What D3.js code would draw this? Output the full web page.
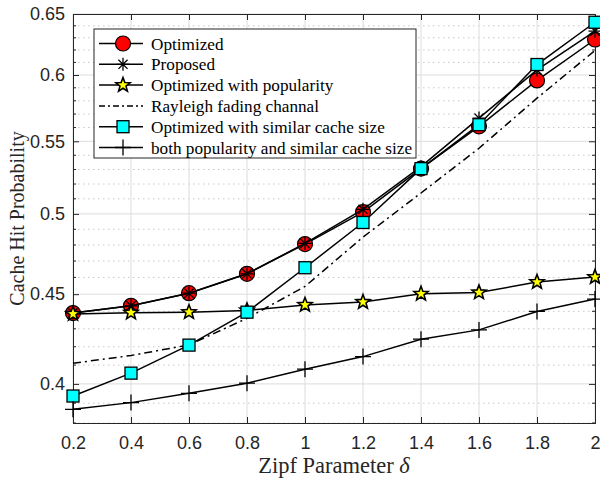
<!DOCTYPE html>
<html>
<head>
<meta charset="utf-8">
<script src="https://cdn.jsdelivr.net/npm/d3@7"></script>
<style>
  body { margin: 0; background: #fff; }
  svg { display: block; font-family: "Liberation Serif", "Times New Roman", serif; }
  .grid line { stroke: #dcdcdc; stroke-width: 1; }
  .minor line { stroke: #c8c8c8; stroke-width: 1; stroke-dasharray: 1.5 3.5; }
  .tick text { fill: #262626; font-size: 18px; }
</style>
</head>
<body>
<div id="graphic"></div>
<script>
// zipf parameter values
var zipf = [0.2, 0.4, 0.6, 0.8, 1.0, 1.2, 1.4, 1.6, 1.8, 2.0];

// cache hit probability, one array per curve
var optimized      = [0.439, 0.4432, 0.4506, 0.4622, 0.4806, 0.5012, 0.5306, 0.5609, 0.5957, 0.6286];
var proposed       = [0.439, 0.4432, 0.4506, 0.4622, 0.481, 0.503, 0.532, 0.567, 0.604, 0.6355];
var withPopularity = [0.4385, 0.4392, 0.4395, 0.4405, 0.4437, 0.4454, 0.4502, 0.451, 0.4572, 0.4602];
var rayleigh       = [0.411, 0.4152, 0.421, 0.436, 0.4546, 0.485, 0.5139, 0.545, 0.582, 0.6196];
var similarCache   = [0.3937, 0.4057, 0.4209, 0.4395, 0.4659, 0.4944, 0.5306, 0.5621, 0.6083, 0.643];
var bothPopCache   = [0.3869, 0.3903, 0.3951, 0.4004, 0.4078, 0.4146, 0.4242, 0.4294, 0.4399, 0.4471];

var xTicks = [0.2, 0.4, 0.6, 0.8, 1, 1.2, 1.4, 1.6, 1.8, 2];
var yTicks = [0.4, 0.45, 0.5, 0.55, 0.6, 0.65];

var seriesList = [
  { name: "Optimized", values: optimized, marker: "circle", dash: null },
  { name: "Proposed", values: proposed, marker: "asterisk", dash: null },
  { name: "Optimized with popularity", values: withPopularity, marker: "star", dash: null },
  { name: "Rayleigh fading channal", values: rayleigh, marker: "none", dash: "8 4 2 4" },
  { name: "Optimized with similar cache size", values: similarCache, marker: "square", dash: null },
  { name: "both popularity and similar cache size", values: bothPopCache, marker: "plus", dash: null }
];

var width = 600, height = 483;
var margin = { left: 73, right: 5, top: 14, bottom: 60 };
var chart_width = width - margin.left - margin.right;
var chart_height = height - margin.top - margin.bottom;

var svg = d3.select("#graphic").append("svg")
  .attr("width", width)
  .attr("height", height);

var g = svg.append("g")
  .attr("transform", "translate(" + margin.left + "," + margin.top + ")");

var x = d3.scaleLinear().domain([0.2, 2]).range([0, chart_width]);
var y = d3.scaleLog().domain([0.38, 0.65]).range([chart_height, 0]);

// minor values every 0.01 (log axis)
var minor = d3.range(38, 66).map(d => d / 100)
  .filter(d => Math.abs(d * 20 - Math.round(d * 20)) > 1e-6);

// grid
g.append("g").attr("class", "minor")
  .selectAll("line").data(minor).join("line")
  .attr("x1", 0).attr("x2", chart_width)
  .attr("y1", d => y(d)).attr("y2", d => y(d));

g.append("g").attr("class", "grid")
  .selectAll("line").data(yTicks).join("line")
  .attr("x1", 0).attr("x2", chart_width)
  .attr("y1", d => y(d)).attr("y2", d => y(d));

g.append("g").attr("class", "grid")
  .selectAll("line").data(xTicks).join("line")
  .attr("y1", 0).attr("y2", chart_height)
  .attr("x1", d => x(d)).attr("x2", d => x(d));

// axes
var xAxis = d3.axisBottom(x).tickValues(xTicks).tickFormat(d3.format("")).tickSize(-6).tickPadding(13);
var yAxis = d3.axisLeft(y).tickValues(yTicks).tickFormat(d3.format("")).tickSize(-6).tickPadding(8);

function styleAxis(sel) {
  sel.select(".domain").attr("stroke", "#262626");
  sel.selectAll(".tick line").attr("stroke", "#262626");
}

g.append("g").attr("transform", "translate(0," + chart_height + ")").call(xAxis).call(styleAxis);
g.append("g").call(yAxis).call(styleAxis);
g.append("g").call(d3.axisTop(x).tickValues(xTicks).tickFormat("").tickSize(-6)).call(styleAxis);
g.append("g").attr("transform", "translate(" + chart_width + ",0)")
  .call(d3.axisRight(y).tickValues(yTicks).tickFormat("").tickSize(-6)).call(styleAxis);

// minor ticks on y axes
g.append("g").selectAll("line").data(minor).join("line")
  .attr("x1", 0).attr("x2", 3).attr("y1", d => y(d)).attr("y2", d => y(d)).attr("stroke", "#262626");
g.append("g").selectAll("line").data(minor).join("line")
  .attr("x1", chart_width - 3).attr("x2", chart_width).attr("y1", d => y(d)).attr("y2", d => y(d)).attr("stroke", "#262626");

svg.selectAll(".tick text").attr("fill", "#262626").style("font-size", "18px");

// markers
function drawMarker(sel, type) {
  if (type == "circle") {
    sel.append("circle").attr("r", 7.5).attr("fill", "#ff0000").attr("stroke", "#000").attr("stroke-width", 1.2);
  } else if (type == "square") {
    sel.append("rect").attr("x", -6).attr("y", -6).attr("width", 12).attr("height", 12)
      .attr("fill", "#00ffff").attr("stroke", "#000").attr("stroke-width", 1.3);
  } else if (type == "star") {
    var pts = d3.range(10).map(i => {
      var r = i % 2 == 0 ? 7.5 : 3.2;
      var a = -Math.PI / 2 + i * Math.PI / 5;
      return [r * Math.cos(a), r * Math.sin(a)];
    });
    sel.append("path").attr("d", "M" + pts.join("L") + "Z")
      .attr("fill", "#ffff00").attr("stroke", "#000").attr("stroke-width", 1.6)
      .attr("stroke-linejoin", "miter");
  } else if (type == "asterisk") {
    var r = 6.5, q = r * 0.7;
    sel.append("path").attr("d",
      "M0," + (-r) + "V" + r + "M" + (-r) + ",0H" + r +
      "M" + (-q) + "," + (-q) + "L" + q + "," + q + "M" + (-q) + "," + q + "L" + q + "," + (-q))
      .attr("stroke", "#000").attr("stroke-width", 1.3);
  } else if (type == "plus") {
    var p = 8;
    sel.append("path").attr("d", "M0," + (-p) + "V" + p + "M" + (-p) + ",0H" + p)
      .attr("stroke", "#000").attr("stroke-width", 1.3);
  }
}

var line = d3.line()
  .x((d, i) => x(zipf[i]))
  .y(d => y(d));

var series = g.selectAll("g.series")
  .data(seriesList)
  .join("g")
  .attr("class", "series");

series.append("path")
  .attr("d", d => line(d.values))
  .attr("fill", "none")
  .attr("stroke", "#000")
  .attr("stroke-width", 1.5)
  .attr("stroke-dasharray", d => d.dash);

series.each(function(s) {
  d3.select(this).selectAll("g.pt")
    .data(s.values)
    .join("g")
    .attr("class", "pt")
    .attr("transform", (d, i) => "translate(" + x(zipf[i]) + "," + y(d) + ")")
    .each(function() { drawMarker(d3.select(this), s.marker); });
});

// legend
var legend = svg.append("g").attr("transform", "translate(94,29)");
legend.append("rect")
  .attr("width", 322).attr("height", 129)
  .attr("fill", "#fff").attr("stroke", "#262626").attr("stroke-width", 1);

var rows = legend.selectAll("g.row")
  .data(seriesList)
  .join("g")
  .attr("class", "row")
  .attr("transform", (d, i) => "translate(0," + (14.5 + i * 20.8) + ")");

rows.append("line")
  .attr("x1", 5).attr("x2", 49)
  .attr("stroke", "#000").attr("stroke-width", 1.5)
  .attr("stroke-dasharray", d => d.dash ? "6 3 2 3" : null);

rows.append("g").attr("transform", "translate(29,0)")
  .each(function(d) { drawMarker(d3.select(this), d.marker); });

rows.append("text")
  .attr("x", 57).attr("dy", "0.35em")
  .style("font-size", "17.2px")
  .attr("fill", "#000")
  .text(d => d.name);

// axis titles
svg.append("text")
  .attr("x", margin.left + chart_width / 2)
  .attr("y", 473)
  .attr("text-anchor", "middle")
  .style("font-size", "22.5px")
  .attr("fill", "#262626")
  .html("Zipf Parameter <tspan font-style='italic'>δ</tspan>");

svg.append("text")
  .attr("transform", "translate(24," + (margin.top + chart_height / 2) + ") rotate(-90)")
  .attr("text-anchor", "middle")
  .style("font-size", "20px")
  .attr("fill", "#262626")
  .text("Cache Hit Probability");
</script>
</body>
</html>
